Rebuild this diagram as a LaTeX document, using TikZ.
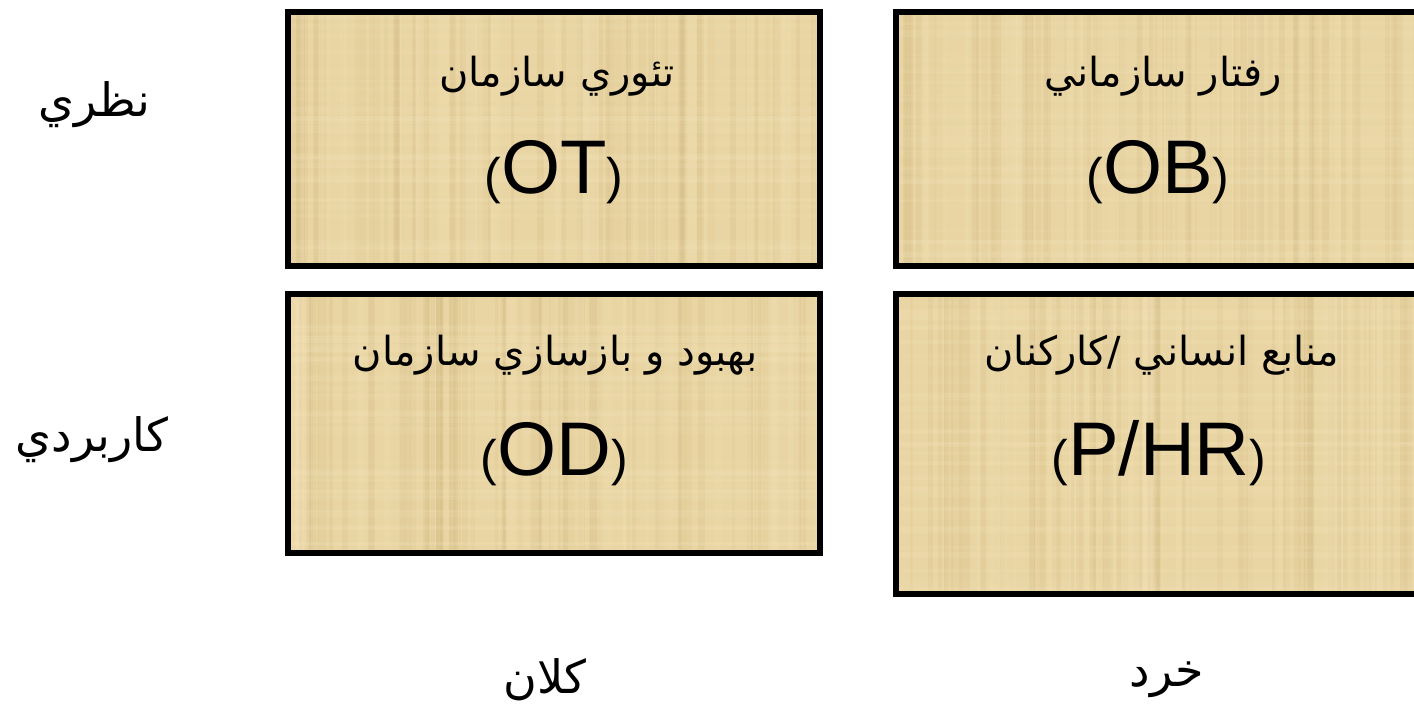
\documentclass[tikz,border=0pt]{standalone}
\usepackage{fontspec}
\setmainfont{Liberation Sans}
\newfontfamily\arabicfont[Script=Arabic]{DejaVu Sans}
\TeXXeTstate=1
\usetikzlibrary{calc}
\definecolor{papyrus}{RGB}{233,213,163}
\definecolor{papdark}{RGB}{185,155,95}
\definecolor{paplight}{RGB}{248,234,196}
\tikzset{
  boxfill/.style={fill=papyrus, inner sep=0pt, outer sep=0pt},
  boxborder/.style={draw=black, line width=6pt},
  artext/.style={font=\arabicfont\fontsize{40}{46}\selectfont, inner sep=0pt},
  sidetext/.style={font=\arabicfont\fontsize{46}{52}\selectfont, inner sep=0pt},
  abbr/.style={inner sep=0pt, anchor=base}
}
\newcommand\abbrtext[1]{{\fontsize{50}{50}\selectfont(}{\fontsize{76}{80}\selectfont #1}{\fontsize{50}{50}\selectfont)}}
\newcommand\papyrustex[1]{%
  \begin{scope}
    \clip (#1.north west) rectangle (#1.south east);
    \foreach \k in {1,...,70}{%
      \pgfmathsetmacro\r{rnd}\pgfmathsetmacro\w{2+6*rnd}\pgfmathsetmacro\o{0.04+0.08*rnd}%
      \fill[papdark, opacity=\o] ($(#1.north west)!\r!(#1.north east)$) rectangle ++(\w,320);
    }
    \foreach \k in {1,...,40}{%
      \pgfmathsetmacro\r{rnd}\pgfmathsetmacro\w{2+5*rnd}\pgfmathsetmacro\o{0.05+0.1*rnd}%
      \fill[paplight, opacity=\o] ($(#1.north west)!\r!(#1.south west)$) rectangle ++(560,\w);
    }
    \foreach \k in {1,...,30}{%
      \pgfmathsetmacro\r{rnd}\pgfmathsetmacro\w{3+8*rnd}\pgfmathsetmacro\o{0.06+0.1*rnd}%
      \fill[paplight, opacity=\o] ($(#1.north west)!\r!(#1.north east)$) rectangle ++(\w,320);
    }
  \end{scope}
  \draw[boxborder] (#1.north west) rectangle (#1.south east);
}
\begin{document}
\begin{tikzpicture}[x=1pt,y=-1pt]
\pgfmathsetseed{11}
\useasboundingbox (0,0) rectangle (1414,710);
\clip (0,0) rectangle (1414,710);
% boxes
\node[boxfill, minimum width=532pt, minimum height=254pt] (ot) at (554,139) {};
\node[boxfill, minimum width=534pt, minimum height=254pt] (ob) at (1163,139) {};
\node[boxfill, minimum width=532pt, minimum height=259pt] (od) at (554,423.5) {};
\node[boxfill, minimum width=534pt, minimum height=300pt] (hr) at (1163,444) {};
\papyrustex{ot}
\papyrustex{ob}
\papyrustex{od}
\papyrustex{hr}
% box texts
\node[artext] (ot1) at (557,76) {\beginR تئوري سازمان\endR};
\node[abbr] (ot2) at (554,193) {\abbrtext{OT}};
\node[artext] (ob1) at (1163,76) {\beginR رفتار سازماني\endR};
\node[abbr] (ob2) at (1158,193) {\abbrtext{OB}};
\node[artext] (od1) at (555,355) {\beginR بهبود و بازسازي سازمان\endR};
\node[abbr] (od2) at (554,475) {\abbrtext{OD}};
\node[artext] (hr1) at (1162,355) {\beginR منابع انساني /كاركنان\endR};
\node[abbr] (hr2) at (1159,475) {\abbrtext{P/HR}};
% side labels
\node[sidetext] (nazari) at (94,105) {\beginR نظري\endR};
\node[sidetext] (karbordi) at (92,440) {\beginR كاربردي\endR};
\node[sidetext] (kalan) at (545,680) {\beginR كلان\endR};
\node[sidetext] (khord) at (1167,680) {\beginR خرد\endR};
\end{tikzpicture}
\end{document}
